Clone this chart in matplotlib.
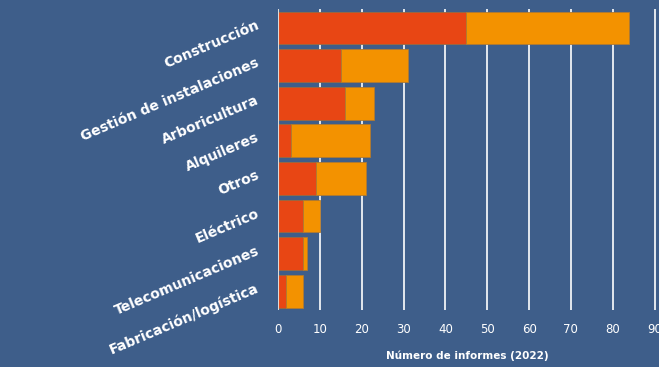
import matplotlib
matplotlib.use("Agg")
import matplotlib.pyplot as plt

# informes por sector, 2022
sectores = ["Construcción", "Gestión de instalaciones", "Arboricultura", "Alquileres",
            "Otros", "Eléctrico", "Telecomunicaciones", "Fabricación/logística"]
graves = [45, 15, 16, 3, 9, 6, 6, 2]
otros = [39, 16, 7, 19, 12, 4, 1, 4]
ticks_x = [0, 10, 20, 30, 40, 50, 60, 70, 80, 90]

fondo = "#3e5e8a"
rojo = "#e84614"
naranja = "#f39200"

fig = plt.figure(figsize=(6.59, 3.67), dpi=100, facecolor=fondo)
ax = fig.add_axes([0.4219, 0.155, 0.5733, 0.82], facecolor=fondo)

pos = range(len(sectores))
ax.barh(pos, graves, height=0.87, color=rojo, edgecolor="#9a6a40", linewidth=0.6, zorder=3)
ax.barh(pos, otros, left=graves, height=0.87, color=naranja, edgecolor="#b07a30",
        linewidth=0.6, zorder=3)

ax.set_xlim(0, 90.3)
ax.set_ylim(len(sectores) - 0.5, -0.5)
ax.set_xticks(ticks_x)
ax.set_xticklabels([str(t) for t in ticks_x], color="white", fontsize=8.5)
ax.set_yticks(list(pos))
ax.set_yticklabels(sectores, color="white", fontsize=10, fontweight="bold",
                   rotation=23, ha="right", va="baseline", rotation_mode="anchor")
ax.tick_params(axis="x", length=0, pad=9)
ax.tick_params(axis="y", length=0, pad=13)
ax.grid(axis="x", color="white", linewidth=1.2, zorder=1)
for s in ax.spines.values():
    s.set_visible(False)
ax.axvline(0, color="#dcdcdc", linewidth=1.5, zorder=4)

ax.set_xlabel("Número de informes (2022)", color="white", fontsize=7.5,
              fontweight="bold", labelpad=11)

fig.savefig("out.png", dpi=100, facecolor=fondo)
